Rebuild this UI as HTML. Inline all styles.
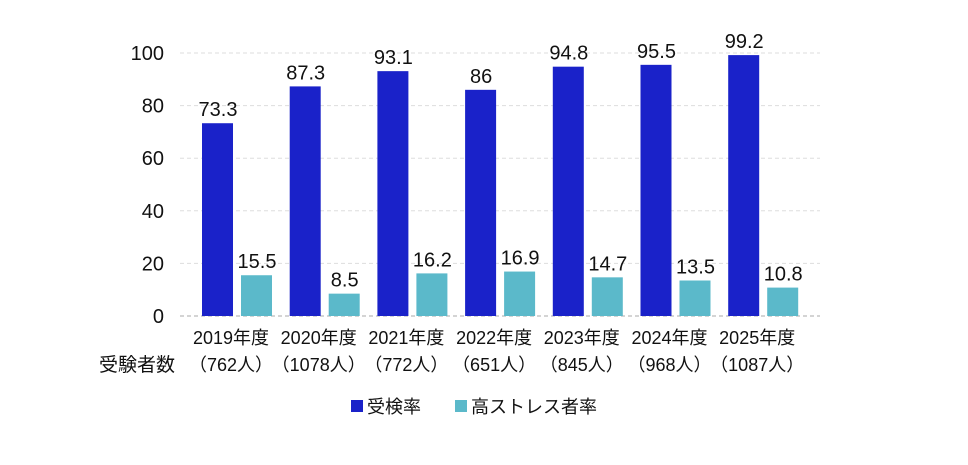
<!DOCTYPE html>
<html><head><meta charset="utf-8"><style>
body{margin:0;background:#fff;}
svg text{font-family:"Liberation Sans","Noto Sans CJK JP",sans-serif;fill:#111;}
</style></head><body>
<svg id="chart" width="968" height="460"></svg>
<script>
const categories=["2019年度","2020年度","2021年度","2022年度","2023年度","2024年度","2025年度"];
const examinees=["（762人）","（1078人）","（772人）","（651人）","（845人）","（968人）","（1087人）"];
const examRate=[73.3,87.3,93.1,86,94.8,95.5,99.2];
const stressRate=[15.5,8.5,16.2,16.9,14.7,13.5,10.8];
const yTicks=[0,20,40,60,80,100];
const svg=document.getElementById('chart');
const NS='http://www.w3.org/2000/svg';
function el(t,a,p){const e=document.createElementNS(NS,t);for(const k in a)e.setAttribute(k,a[k]);(p||svg).appendChild(e);return e;}
const y0=316,ppu=2.63;
const y=v=>y0-v*ppu;
const gx=i=>237+i*87.7;
yTicks.forEach(t=>{
  const l=el('line',{x1:180,x2:820,y1:y(t),y2:y(t),stroke:t===0?'#aaa':'#ddd','stroke-dasharray':'4,3'});
  
  
  const tx=el('text',{x:164,y:y(t)+7,'text-anchor':'end','font-size':20});
  tx.textContent=t;
  
  
});
categories.forEach((c,i)=>{
  const cx=gx(i);
  const b1=el('rect',{x:cx-35,y:y(examRate[i]),width:31,height:examRate[i]*ppu,fill:'#1a22c9'});
  
  
  const b2=el('rect',{x:cx+4,y:y(stressRate[i]),width:31,height:stressRate[i]*ppu,fill:'#5bb9ca'});
  
  
  const v1=el('text',{x:cx-19,y:y(examRate[i])-7,'text-anchor':'middle','font-size':20});
  v1.textContent=examRate[i];
  
  
  const v2=el('text',{x:cx+20,y:y(stressRate[i])-7,'text-anchor':'middle','font-size':20});
  v2.textContent=stressRate[i];
  
  
  const l1=el('text',{x:cx-6,y:344,'text-anchor':'middle','font-size':18});
  l1.textContent=c;
  
  
  const l2=el('text',{x:cx-6,y:371,'text-anchor':'middle','font-size':18});
  l2.textContent=examinees[i];
  
  
});
const t=el('text',{x:175,y:371,'text-anchor':'end','font-size':19});
t.textContent='受験者数';


[['受検率','#1a22c9',351],['高ストレス者率','#5bb9ca',455]].forEach(([n,c,x])=>{
  const r=el('rect',{x:x,y:400,width:12,height:12,fill:c});
  
  
  const tx=el('text',{x:x+16,y:413,'font-size':18});
  tx.textContent=n;
  
  
});
</script>
</body></html>
